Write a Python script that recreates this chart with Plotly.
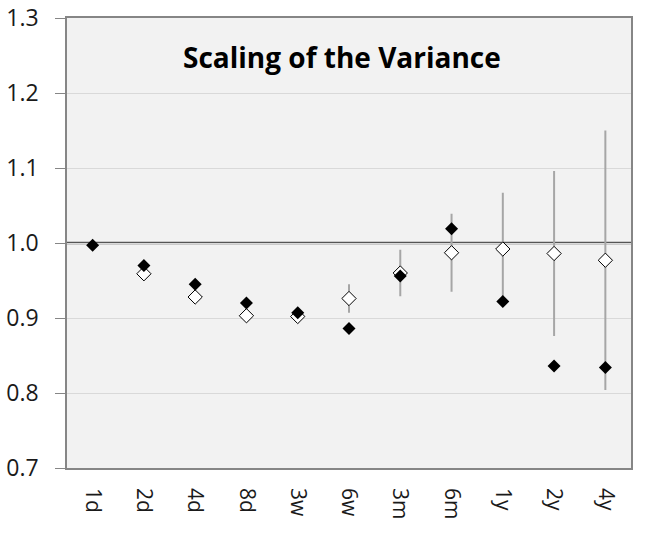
import plotly.graph_objects as go

# ---- data ----
horizons = ["1d", "2d", "4d", "8d", "3w", "6w", "3m", "6m", "1y", "2y", "4y"]
expected_ratio = [None, 0.959, 0.928, 0.903, 0.902, 0.926, 0.960, 0.987, 0.992, 0.986, 0.977]
expected_err = [0.0, 0.0, 0.0, 0.0, 0.0, 0.019, 0.031, 0.052, 0.075, 0.110, 0.173]
observed_ratio = [0.997, 0.970, 0.945, 0.920, 0.907, 0.886, 0.956, 1.019, 0.922, 0.836, 0.834]
reference_level = 1.0
y_ticks = [0.7, 0.8, 0.9, 1.0, 1.1, 1.2, 1.3]
title_text = "Scaling of the Variance"

FONT = "Open Sans, Noto Sans, DejaVu Sans, sans-serif"

fig = go.Figure()

fig.add_trace(go.Scatter(
    x=horizons, y=expected_ratio, mode="markers",
    marker=dict(symbol="diamond", size=11, color="white",
                line=dict(color="black", width=1)),
    error_y=dict(type="data", array=expected_err, symmetric=True,
                 color="#a6a6a6", thickness=2, width=0),
    showlegend=False,
))
fig.add_trace(go.Scatter(
    x=horizons, y=observed_ratio, mode="markers",
    marker=dict(symbol="diamond", size=10, color="black",
                line=dict(color="black", width=0)),
    showlegend=False,
))

fig.add_shape(type="line", xref="paper", x0=0, x1=1, yref="y",
              y0=reference_level, y1=reference_level,
              line=dict(color="#555555", width=2.5), layer="between")

fig.add_annotation(text="<b>" + title_text + "</b>", xref="paper", yref="paper",
                   x=0.4876, y=0.913, showarrow=False,
                   font=dict(family=FONT, size=28, color="black"),
                   xanchor="center", yanchor="middle")

fig.update_layout(
    width=657, height=542,
    margin=dict(l=67, r=26, t=18, b=74, autoexpand=False),
    paper_bgcolor="white",
    plot_bgcolor="#f2f2f2",
    font=dict(family=FONT, color="#1a1a1a"),
    xaxis=dict(
        type="category", range=[-0.5, len(horizons) - 0.5],
        tickangle=90, tickfont=dict(size=21, color="#1a1a1a"),
        showgrid=False, showline=True, mirror=True,
        linecolor="#868686", linewidth=1.5, ticks="",
        ticklabelstandoff=14, automargin=False,
    ),
    yaxis=dict(
        range=[0.7, 1.3], tickvals=y_ticks,
        tickformat=".1f", tickfont=dict(size=23, color="#1a1a1a"),
        showgrid=True, gridcolor="#d9d9d9", gridwidth=1,
        zeroline=False, showline=True, mirror=True,
        linecolor="#868686", linewidth=1.5,
        ticks="outside", ticklen=10, tickcolor="#868686", tickwidth=1,
        ticklabelstandoff=12, automargin=False,
    ),
)

fig.write_html(
    "out.html",
    config={"displayModeBar": False},
    post_script="document.body.style.margin='0';document.body.style.overflow='hidden';",
)
